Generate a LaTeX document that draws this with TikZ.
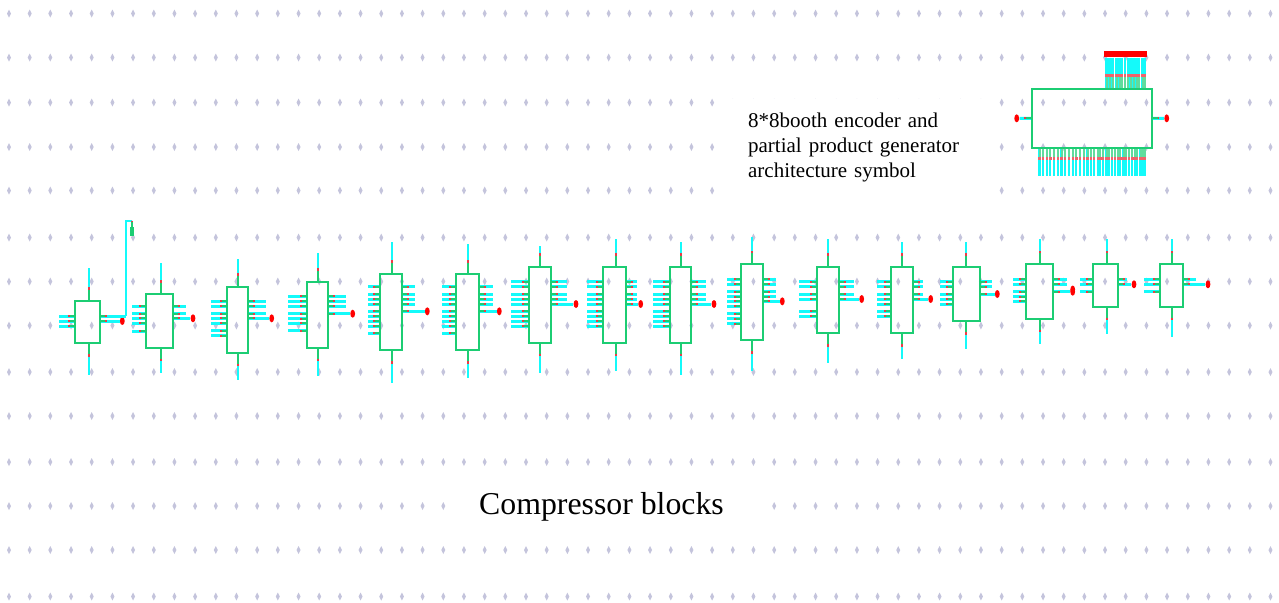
\documentclass[tikz,border=0pt]{standalone}
\usepackage{fontspec}
\setmainfont{Liberation Serif}
\usetikzlibrary{shapes.geometric}

\definecolor{gridcolor}{RGB}{196,196,220}
\definecolor{boxgreen}{RGB}{28,205,115}
\definecolor{wirecyan}{RGB}{20,250,250}
\definecolor{tickred}{RGB}{235,60,70}

\begin{document}
\begin{tikzpicture}[
        x=0.5pt, y=-0.5pt,
        compbox/.style={draw=boxgreen, line width=1.1pt, inner sep=0pt},
        hwire/.style={wirecyan, line width=1.5pt},
        vwire/.style={wirecyan, line width=0.9pt},
        stub/.style={boxgreen, line width=0.9pt},
        tick/.style={tickred, line width=1pt},
        busstub/.style={boxgreen!70, line width=1pt},
        buswire/.style={wirecyan, line width=1.05pt},
        outdot/.style={ellipse, fill=red, inner sep=0pt, minimum width=2.4pt, minimum height=4pt},
        caption/.style={fill=white, inner xsep=0pt, align=left}
    ]
    \useasboundingbox (0,0) rectangle (1279,602);

    % Puntos de la rejilla
    \foreach \yy in {13.5,57.5,102.5,147,190.5,237.5,281.5,325.5,372,416,462,506,550,596.5}
        \foreach \i in {0,...,61}
            \fill[gridcolor] ({9+20.68*\i-2},\yy) -- ({9+20.68*\i},\yy-4) -- ({9+20.68*\i+2},\yy) -- ({9+20.68*\i},\yy+4) -- cycle;

    % Bloques compresores
    \foreach \n/\xl/\xr/\yt/\yb/\xp/\pt/\pb/\xin/\lefts/\rights/\xo/\xe/\yo in {
        1/75/100/300.7/343/88.7/268/375/59/{316,321,326}/{316}/126/122.3/321,
        2/146/173/294/347.7/160.7/263/373/132/{306,313.7,318.3,323.3,331}/{306,313.7}/186/193/318.3,
        3/227/248/286.7/352.7/238/258.7/380/211/{301,306,313.7,318.3,323.3,330.7,335.7}/{301,306,313.7}/265.7/271.7/318.3,
        4/306.7/328.3/281.7/347.7/318/253.3/375.7/288.3/{296.3,301.3,306.3,313.7,318.7,323.3,330.7}/{296.3,301.3,306.3}/345.7/352.7/313.7,
        5/379.7/402.3/274/350/392/241.7/382.7/368/{286.7,294,299,304,311.3,316.3,321,326,333.3}/{286.7,294,299,304}/415/427.3/311.3,
        6/456.3/478.7/274/350/468.3/244/377.7/442.3/{286.7,294,299,304,311.3,316.3,321,326,333.3}/{286.7,294,299,304}/493/499.3/311.3,
        7/529.3/550.7/267/342.7/540.3/246/373.3/510.7/{281.7,286.7,294,299,304,311.3,316.3,321,326}/{281.7,286.7,294,299}/566.7/576/304,
        8/603.3/626/267/342.7/615.7/239/370.7/587.3/{281.7,286.7,294,299,304,311.3,316.3,321,326}/{281.7,286.7,294,299}/636.7/640.7/304,
        9/669.7/690.7/267/342.7/680.7/241.7/375.3/653.3/{281.7,286.7,294,299,304,311.3,316.3,321,326}/{281.7,286.7,294,299}/706/714/304,
        10/740.7/762.7/264.3/340/752/236.7/370.7/726.7/{279.3,284.3,291.7,296.7,301.3,306.3,313.7,318.7,323.7}/{279.3,284.3,291.7,296.7}/775.7/782.3/301.3,
        11/817/839/267/333.3/828/239/363.3/799.3/{281.7,286.7,294,299,311.3,316}/{281.7,286.7,294}/854.3/861.7/299,
        12/891/912.7/267/333.3/902.3/241.7/359.3/877.3/{281.7,286.7,294,299,304,311.3,316}/{281.7,286.7,294}/923.3/930.7/299,
        13/952.7/979.7/267/321/966.3/241.7/349/940/{281.7,286.7,294,299,304}/{281.7,286.7}/991.7/997.3/294,
        14/1025.7/1052.7/264.3/318.7/1040.3/239.3/344.3/1013/{279.3,284.3,291.7,296.7,301.3}/{279.3,284.3}/1066.7/1072.7/291.7,
        15/1093/1118.3/264.3/306.7/1106.7/239.3/334.3/1080/{279.3,284.3,291.7}/{279.3}/1127.3/1134/284.3,
        16/1159.7/1183.3/264.3/306.7/1172/239.3/336.7/1144.3/{279.3,284.3,291.7}/{279.3}/1196/1208/284.3}
    {
        \node[compbox, minimum width={(\xr-\xl)*0.5pt}, minimum height={(\yb-\yt)*0.5pt}] (comp\n) at ({(\xl+\xr)/2},{(\yt+\yb)/2}) {};
        \node[outdot] (out\n) at (\xe,\yo) {};

        % Patillas arriba y abajo
        \draw[vwire] (comp\n.north -| \xp,0) -- (\xp,\pt);
        \draw[vwire] (comp\n.south -| \xp,0) -- (\xp,\pb);
        \draw[stub] (comp\n.north -| \xp,0) -- ++(0,-10);
        \draw[stub] (comp\n.south -| \xp,0) -- ++(0,10);
        \draw[tick] (comp\n.north -| \xp,0) ++(0,-10) -- ++(0,-2.5);
        \draw[tick] (comp\n.south -| \xp,0) ++(0,10) -- ++(0,2.5);

        % Entradas
        \foreach \y in \lefts {
            \draw[hwire] (comp\n.west |- 0,\y) -- (\xin,\y);
            \draw[stub] (comp\n.west |- 0,\y) -- ++(-5,0);
            \draw[tick] (comp\n.west |- 0,\y) ++(-4,0) -- ++(-2,0);
        }

        % Salidas
        \foreach \y in \rights {
            \draw[hwire] (comp\n.east |- 0,\y) -- (\xo,\y);
            \draw[stub] (comp\n.east |- 0,\y) -- ++(5,0);
            \draw[tick] (comp\n.east |- 0,\y) ++(4,0) -- ++(2,0);
        }
        \draw[hwire] (comp\n.east |- out\n) -- (out\n);
        \draw[stub] (comp\n.east |- out\n) -- ++(5,0);
        \draw[tick] (comp\n.east |- out\n) ++(4,0) -- ++(2,0);
    }

    % Salida larga del primer bloque
    \coordinate (bend1) at (126,316);
    \node[fill=boxgreen, inner sep=0pt, minimum width=2pt, minimum height=4.4pt] (sink1) at (132.3,231.7) {};
    \coordinate (top1) at (132.3,220.7);
    \draw[vwire] (bend1) |- (top1);
    \draw[stub] (top1) -- (sink1);
    \draw[tick] (top1) -- ++(0,1.5);

    % Salida doble del bloque 14
    \node[outdot] (out14b) at (1072.7,289.5) {};

    % Simbolo del codificador
    \node[compbox, line width=0.9pt, minimum width=60.15pt, minimum height=29.35pt] (encoder) at (1091.85,118.35) {};
    \node[fill=red, inner sep=0pt, minimum width=21.2pt, minimum height=3.2pt] (bus) at (1125.5,54) {};
    \node[outdot] (encin) at (1016.7,118.3) {};
    \node[outdot] (encout) at (1166.7,118.3) {};

    \draw[hwire] (encoder.west) -- (encin);
    \draw[stub] (encoder.west) -- ++(-5,0);
    \draw[tick] (encoder.west) ++(-5,0) -- ++(-1.5,0);
    \draw[hwire] (encoder.east) -- (encout);
    \draw[stub] (encoder.east) -- ++(5,0);
    \draw[tick] (encoder.east) ++(5,0) -- ++(1.5,0);

    % Patillas superiores
    \foreach \xp in {1106.5,1109.5,1112.5,1116.5,1119.5,1122,1125,1128,1130.5,1133.5,1136.5,1138.7,1142.5,1145} {
        \draw[buswire] (bus.south -| \xp,0) -- (encoder.north -| \xp,0);
        \draw[busstub] (encoder.north -| \xp,0) -- ++(0,-11);
        \draw[tick, tickred!80, line width=1.2pt] (encoder.north -| \xp,0) ++(0,-11) -- ++(0,-3);
    }

    % Patillas inferiores
    \foreach \xp in {1039.5,1043,1046.7,1050.4,1054,1057.8,1061.5,1065.2,1069,1072.7,1076.4,1080,1083.8,1087.5,1091,1094,1097.7,1100.4,1103,1106.5,1109,1111.7,1115,1117.7,1120.3,1123.5,1126,1128.7,1132,1134.6,1137.2,1140.5,1143,1145} {
        \draw[buswire] (encoder.south -| \xp,0) -- (\xp,175.7);
        \draw[busstub] (encoder.south -| \xp,0) -- ++(0,8.5);
        \draw[tick, tickred!80, line width=1.2pt] (encoder.south -| \xp,0) ++(0,8.5) -- ++(0,3);
    }

    % Textos
    \node[caption, anchor=north west, text width=112pt, inner ysep=7pt, font=\fontsize{10.5}{12.45}\selectfont, inner xsep=11.35pt] (encoderlabel) at (725,98.6) {8*8booth encoder and\\partial product generator\\architecture symbol};
    \node[caption, anchor=base, minimum width=155pt, font=\fontsize{15.9}{18}\selectfont, align=center] (compressorlabel) at (601.5,514.5) {Compressor blocks};
\end{tikzpicture}
\end{document}
